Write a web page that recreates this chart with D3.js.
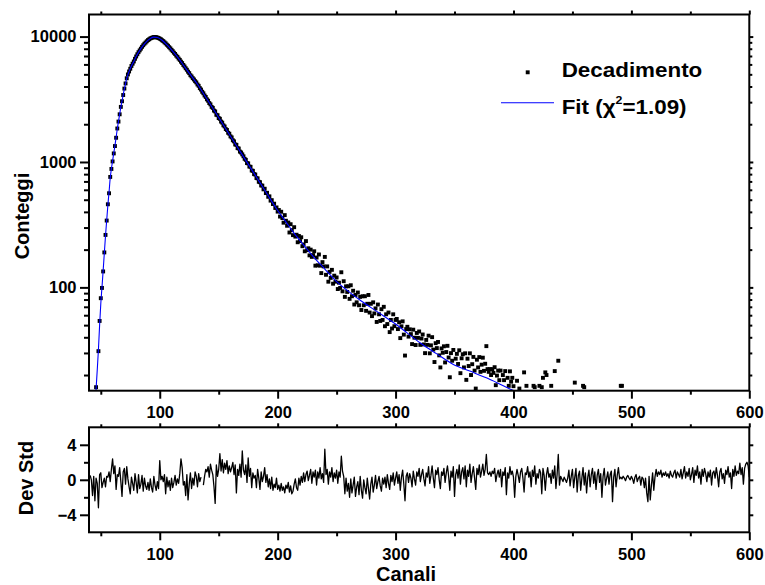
<!DOCTYPE html>
<html><head><meta charset="utf-8">
<script src="https://cdn.jsdelivr.net/npm/d3@7"></script>
<style>body{margin:0;background:#fff}</style>
</head><body><svg id="c" width="765" height="585"></svg>
<script>
// ---- data ----
const decayStart = 46;   // channel of first entry, one entry per channel
const decayCounts = [
16,null,31,54,82,99,134,190,262,341,
460,563,760,880,1010,1170,1340,1560,1850,2100,
2400,2750,3050,3420,3850,4230,4650,4990,5270,5540,
5830,6080,6330,6650,6940,7230,7510,7760,8010,8290,
8530,8770,8960,9170,9370,9510,9660,9760,9840,9900,
9890,9880,9820,9750,9620,9510,9340,9200,9000,8830,
8620,8450,8230,8050,7840,7650,7440,7270,7050,6890,
6680,6520,6310,6150,5940,5780,5590,5440,5250,5110,
4920,4810,4660,4550,4410,4310,4150,4050,3880,3780,
3630,3530,3390,3300,3160,3080,2950,2880,2750,2700,
2570,2530,2380,2360,2240,2210,2100,2060,1960,1920,
1830,1800,1710,1680,1600,1570,1490,1460,1380,1370,
1290,1280,1210,1190,1150,1110,1060,1040,980,975,
920,915,855,850,800,795,745,740,695,690,
650,648,605,612,565,568,528,532,492,496,
462,465,430,434,402,414,367,401,357,328,
377,340,310,329,274,319,286,261,302,254,
263,229,257,234,251,213,220,194,234,198,
205,180,200,175,181,194,149,173,150,183,
149,130,159,147,175,126,147,111,133,119,
138,107,124,111,120,97,109,99,132,93,
112,84,102,92,102,81,104,85,94,73,
87,76,91,72,84,66,85,72,85,65,
74,87,63,74,59,76,62,68,53,73,
61,54,67,55,70,49,61,51,63,44,
55,47,61,49,55,
56,46.5,52.7,39.4,48.9,53.6,42,28.6,46.5,48.5,
40.5,46.3,42.4,35.3,46,39.7,34.7,43.3,39.6,44.5,
34.8,39.1,42.1,35.1,29.9,38.1,34.8,41.2,29.8,34.5,
40.1,31.9,25.4,35.9,32.8,36.7,28.7,23,32.6,30.1,
33.9,25.2,30.5,34.2,27.6,19.2,29.9,26,31.7,14.8,
27,29.5,24.5,31.5,20.7,27.2,29.3,23,29.8,18.3,
27,23.6,29.8,20,24.4,27.9,21.7,15.6,26.5,23,
27.8,21.2,24.2,27.5,21.6,24.6,34,22.3,21.2,22.3,
20,22.3,20.8,23.1,16.6,19.8,21.7,18.2,21.7,13.5,
20,18.2,21.5,9,19,16.4,21.4,17.7,19,16.3
];
const tailChannels = [403,405,409,411,417,418,422,424,425,427,428,432,435,438,452,459,460,491,492];
const tailCounts   = [18,15.6,21,16.4,16.4,16,16.4,16,19,21,20,16.4,21.5,26,17.4,16.4,16,16.4,16.4];

const fitChannels = [45,46,47,48,49,50,51,52,53,54,55,56,57,58,59,60,61,62,63,64,65,66,67,68,69,70,71,72,73,74,76,78,80,84,88,92,95,98,102,106,110,115,120,125,132,140,150,160,170,180,190,200,207,215,222,230,240,250,260,270,285,300,310,321,335,349,363,377,387,397,410];
const fitCounts   = [10.5,15.5,22,32,50,74,100,136,188,258,342,452,575,745,885,1020,1180,1350,1570,1840,2110,2400,2740,3060,3420,3830,4220,4640,4980,5280,5830,6330,6940,8010,8960,9660,9900,9820,9340,8620,7840,6890,5940,5110,4170,3175,2260,1605,1140,811,577,410,333,262,218,177,140,111,93,79,63.5,51,43.2,36,29.5,24.3,21.5,19,17.2,15.5,14];

const residStart = 41;   // channel of first residual
const residuals = [
0.5,0.0,-1.8,0.4,-2.4,0.2,-0.4,-3.2,0.6,0.8,
-0.9,-0.3,0.2,-0.8,0.4,0.3,0.9,-0.2,1.2,2.4,
0.7,1.6,-1.1,0.6,0.4,1.4,-0.2,-1.9,0.9,1.3,
-0.5,1.5,0.1,-0.8,-1.6,0.3,-0.4,-1.2,0.7,-0.3,
-1.5,0.6,-1.0,-0.5,0.5,-1.3,0.2,-0.7,-1.1,-0.3,
-1.2,0.1,-0.9,-1.4,0.4,-0.6,-1.2,-0.2,-1.0,2.2,
0.0,0.4,-0.2,0.6,-1.6,0.3,-0.8,-0.1,-1.2,0.2,
-0.9,-0.3,0.5,-0.6,0.1,-0.4,0.7,2.4,1.4,-0.6,
-0.2,-1.8,0.6,-2.3,-0.5,0.8,-1.0,0.2,-0.6,0.9,
0.4,-0.8,0.7,-0.2,0.3,null,-0.6,0.4,1.2,0.9,
1.5,0.3,1.8,1.1,0.6,-0.8,-2.7,1.7,0.4,1.2,
3.0,1.0,2.3,0.8,1.9,1.2,2.2,0.7,1.6,0.9,
1.4,2.0,0.6,1.7,-1.5,1.2,0.5,1.8,0.3,3.3,
1.1,0.6,1.7,-0.3,2.5,0.4,1.3,-0.9,0.8,0.2,
0.5,-0.9,1.2,0.2,-1.1,0.9,-0.2,0.4,1.4,-0.3,
0.6,-0.8,0.1,-1.0,0.3,-1.2,-0.5,-0.9,0.2,-1.1,
-0.6,-1.3,-0.4,-1.2,-0.8,-1.5,-0.6,-1.0,-0.3,-1.4,
-0.7,-1.6,-1.3,-0.5,0.1,-0.9,-1.2,0.2,-0.6,0.4,
-0.3,0.8,-0.2,0.6,1.0,-0.1,0.5,1.2,-0.4,0.9,
0.3,1.1,-0.6,0.9,0.2,1.4,0.1,0.7,-0.3,3.5,
0.6,1.2,-0.5,0.9,0.3,1.4,-0.2,0.8,0.2,1.1,
-0.4,0.9,0.3,2.7,1.0,0.4,-1.6,0.2,-1.3,-0.4,
-2.0,0.1,-1.5,-0.6,0.3,-1.9,-0.8,-0.2,-1.7,0.4,
-1.2,-2.1,0.0,-0.9,-1.6,0.2,-1.0,-2.2,-0.5,0.3,
-1.4,-0.6,0.5,-1.0,-0.2,0.4,-0.7,-1.3,0.2,-0.5,
0.3,-0.9,0.6,-0.4,-1.1,0.5,-0.2,0.8,-0.6,0.2,
0.9,-0.4,0.6,-1.2,0.3,1.1,-0.5,-2.4,0.4,0.8,
-0.3,0.7,0.2,-0.8,1.0,0.1,-0.6,0.9,0.4,1.3,
-0.2,0.6,1.2,0.1,-0.7,0.8,0.3,1.5,-0.4,0.5,
1.6,0.2,-0.9,1.1,0.6,1.4,0.0,-1.0,0.9,0.5,
1.3,-0.3,0.8,1.6,0.4,-1.2,1.0,0.3,1.5,-1.9,
0.6,1.2,0.2,1.7,-0.5,0.9,1.4,0.1,1.6,-0.8,
1.1,0.4,1.8,-0.3,0.7,1.5,0.2,-1.1,1.3,0.6,
1.7,0.3,1.0,1.8,0.5,1.2,2.9,0.8,0.6,0.9,
0.4,1.0,0.7,1.3,-0.2,0.6,1.1,0.3,1.2,-0.8,
0.9,0.5,1.4,-1.7,0.8,0.2,1.5,0.6,1.0,0.3,
-2.0,0.4,1.2,0.5,-0.3,0.9,1.3,0.2,-1.4,0.8,
0.6,1.5,0.3,0.9,-0.8,1.1,0.4,1.6,-0.5,0.7,
0.2,1.2,0.8,-1.6,1.3,0.5,-1.2,0.6,1.4,0.3,
0.7,-0.4,1.1,0.2,1.6,-1.0,0.6,2.9,-0.6,0.4,
0.1,-0.2,0.3,0.0,-0.3,0.2,1.1,-0.7,0.4,1.2,
-0.9,0.3,1.3,-1.4,0.5,1.0,-1.2,0.2,1.4,-0.6,
0.8,-1.5,0.3,1.1,-0.8,0.6,1.3,-0.4,0.9,-1.1,
0.5,1.2,-0.3,0.7,-2.0,0.4,1.3,-0.6,0.2,0.9,
-0.5,0.6,1.0,-2.5,0.3,1.2,-0.8,0.5,1.4,0.1,
0.3,0.1,0.4,0.2,-0.1,0.3,0.5,0.2,0.0,0.4,
0.1,-0.4,0.3,0.6,-0.2,0.2,0.4,-0.6,0.3,0.1,
-0.9,0.2,-1.5,-2.5,0.4,-2.3,-0.6,0.8,-1.2,0.3,
1.2,0.4,0.9,0.6,1.1,0.3,0.8,0.5,0.9,0.4,
0.7,0.2,1.0,0.5,0.3,0.8,1.1,0.2,0.9,0.6,
0.3,1.2,0.1,0.8,1.5,0.2,0.9,0.4,1.3,0.0,
0.6,1.4,-0.3,1.1,0.5,1.6,0.2,0.9,-0.5,1.2,
0.4,1.3,0.7,-0.2,0.9,0.3,1.1,-0.6,0.8,1.0,
0.2,1.4,0.5,-0.8,0.9,1.3,0.1,0.7,-0.4,1.1,
0.6,1.5,0.3,0.8,-1.0,1.2,0.4,1.6,0.5,1.0,
0.7,1.9,0.6,1.4,-0.5,1.3,1.8,2.0,1.6,0.3
];

const xTicks = [100,200,300,400,500,600];
const xMinor = [50,150,250,350,450,550];
const yTicks = [100,1000,10000];
const yMinor = [20,30,40,50,60,70,80,90,200,300,400,500,600,700,800,900,2000,3000,4000,5000,6000,7000,8000,9000];
const rTicks = [-4,0,4];
const rMinor = [-2,2];
const legendLabels = ["Decadimento", "Fit ("];

// ---- layout ----
const FONT = '"Liberation Sans", Arial, Helvetica, sans-serif';
const L = 89, R = 749.3, T1 = 14.5, B1 = 390.7, T2 = 427.3, B2 = 532.3;

const svg = d3.select('#c');
svg.append('rect').attr('width',765).attr('height',585).attr('fill','#fff');

const x = d3.scaleLinear().domain([40,600]).range([L,R]);
const y = d3.scaleLog().domain([15,15000]).range([B1,T1]);
const r = d3.scaleLinear().domain([-6,6]).range([B2,T2]);

function style(g) {
  g.select('.domain').remove();
  g.selectAll('.tick line').attr('stroke','#000').attr('stroke-width',2);
  g.selectAll('.tick text').attr('fill','#000').attr('font-family',FONT)
    .attr('font-weight','bold').attr('font-size',16.5);
  return g;
}
function axis(gen, tx, ty) {
  return style(svg.append('g').attr('transform',`translate(${tx},${ty})`).call(gen));
}
const noLab = () => '';

svg.append('clipPath').attr('id','clipTop').append('rect')
  .attr('x',L).attr('y',T1).attr('width',R-L).attr('height',B1-T1);

// data points
const pts = [];
decayCounts.forEach((v,i) => { if (v != null) pts.push([decayStart+i, v]); });
tailChannels.forEach((c,i) => pts.push([c, tailCounts[i]]));
const vis = pts.filter(d => d[1] >= 15);
const gTop = svg.append('g').attr('clip-path','url(#clipTop)');
const S = 3.9;
gTop.selectAll('rect.pt').data(vis).enter().append('rect').attr('class','pt')
  .attr('x', d => x(d[0]) - S/2).attr('y', d => y(d[1]) - S/2)
  .attr('width', S).attr('height', S).attr('fill','#000');

// fit line
const fitData = fitChannels.map((c,i) => [c, fitCounts[i]]);
gTop.append('path').datum(fitData)
  .attr('d', d3.line().x(d => x(d[0])).y(d => y(d[1])).curve(d3.curveMonotoneX))
  .attr('fill','none').attr('stroke','#0000ff').attr('stroke-width',1.1);

// residual line
const resData = residuals.map((v,i) => [residStart+i, v]);
svg.append('path').datum(resData)
  .attr('d', d3.line().defined(d => d[1] != null).x(d => x(d[0])).y(d => r(d[1])))
  .attr('fill','none').attr('stroke','#000').attr('stroke-width',1.3).attr('stroke-linejoin','round');

// ---- axes top panel ----
axis(d3.axisBottom(x).tickValues(xTicks).tickSize(8).tickPadding(7.5).tickFormat(d3.format('d')), 0, B1);
axis(d3.axisBottom(x).tickValues(xMinor).tickSize(4).tickFormat(noLab), 0, B1);
axis(d3.axisTop(x).tickValues(xTicks).tickSize(4).tickFormat(noLab), 0, T1);
axis(d3.axisTop(x).tickValues(xMinor).tickSize(3).tickFormat(noLab), 0, T1);
axis(d3.axisLeft(y).tickValues(yTicks).tickSize(9).tickPadding(3.5).tickFormat(d3.format('d')), L, 0);
axis(d3.axisLeft(y).tickValues(yMinor).tickSize(5).tickFormat(noLab), L, 0);
axis(d3.axisRight(y).tickValues(yTicks).tickSize(4).tickFormat(noLab), R, 0);
axis(d3.axisRight(y).tickValues(yMinor).tickSize(3).tickFormat(noLab), R, 0);

// ---- axes bottom panel ----
axis(d3.axisBottom(x).tickValues(xTicks).tickSize(8).tickPadding(7.5).tickFormat(d3.format('d')), 0, B2);
axis(d3.axisBottom(x).tickValues(xMinor).tickSize(4).tickFormat(noLab), 0, B2);
axis(d3.axisTop(x).tickValues(xTicks).tickSize(4).tickFormat(noLab), 0, T2);
axis(d3.axisTop(x).tickValues(xMinor).tickSize(3).tickFormat(noLab), 0, T2);
axis(d3.axisLeft(r).tickValues(rTicks).tickSize(9).tickPadding(3.5).tickFormat(d3.format('d')), L, 0);
axis(d3.axisLeft(r).tickValues(rMinor).tickSize(5).tickFormat(noLab), L, 0);
axis(d3.axisRight(r).tickValues(rTicks).tickSize(4).tickFormat(noLab), R, 0);
axis(d3.axisRight(r).tickValues(rMinor).tickSize(3).tickFormat(noLab), R, 0);

// frames
[[T1,B1],[T2,B2]].forEach(([t,b]) => svg.append('rect')
  .attr('x',L).attr('y',t).attr('width',R-L).attr('height',b-t)
  .attr('fill','none').attr('stroke','#000').attr('stroke-width',2));

// titles
function txt(s, size) {
  return svg.append('text').text(s).attr('font-family',FONT).attr('font-weight','bold')
    .attr('font-size',size).attr('fill','#000');
}
txt('Conteggi',20).attr('text-anchor','middle').attr('transform','translate(28.5,216) rotate(-90)');
txt('Dev Std',20).attr('text-anchor','middle').attr('transform','translate(33,478) rotate(-90)');
txt('Canali',20).attr('text-anchor','middle').attr('x',406).attr('y',581);

// legend
svg.append('rect').attr('x',527.7-S/2).attr('y',72.3-S/2).attr('width',S).attr('height',S).attr('fill','#000');
txt(legendLabels[0],20).attr('transform','translate(561.7,77.3) scale(1.12,1)');
svg.append('line').attr('x1',501).attr('x2',554).attr('y1',102.7).attr('y2',102.7)
  .attr('stroke','#0000ff').attr('stroke-width',1.1);
const ft = txt(legendLabels[1],20).attr('transform','translate(561.7,114) scale(1.12,1)');
ft.append('tspan').text('χ');
ft.append('tspan').text('2').attr('font-size',11).attr('dy',-10);
ft.append('tspan').text('=1.09)').attr('dy',10);
</script>
</body></html>
